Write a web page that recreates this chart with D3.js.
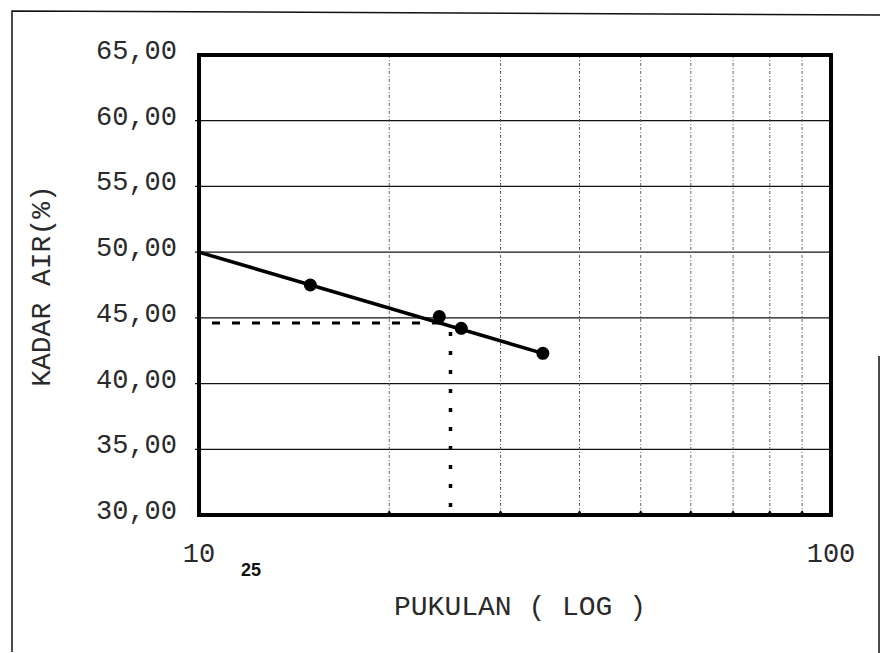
<!DOCTYPE html>
<html>
<head>
<meta charset="utf-8">
<script src="https://cdn.jsdelivr.net/npm/d3@7"></script>
<style>
	body { margin: 0; background: #fff; }
	svg { display: block; }
	.mono { font-family: "Courier New", "Liberation Mono", monospace; fill: #2a2a2a; }
</style>
</head>
<body>
<svg id="chart" width="880" height="653"></svg>
<script>
// data
const blows = [15, 24, 26, 35];
const moisture = [47.5, 45.1, 44.2, 42.3];

// fitted line (end points as drawn)
const trendBlows = [10, 35];
const trendMoisture = [50.0, 42.3];

// reading at 25 blows
const refBlows = 25;
const refMoisture = 44.6;

const yTicks = [30, 35, 40, 45, 50, 55, 60, 65];
const xGrid = [20, 30, 40, 50, 60, 70, 80, 90];
const xLabels = [10, 100];

const margin = {top: 55, right: 49, bottom: 138, left: 199};
const W = 880, H = 653;

const svg = d3.select('#chart');

// outer frame of the scan
svg.append('path')
	.attr('d', 'M12,652 L12,11 L880,15 M879,356 L879,653')
	.attr('fill', 'none')
	.attr('stroke', '#111')
	.attr('stroke-width', 1.5);

const xScale = d3.scaleLog()
	.domain([10, 100])
	.range([margin.left, W - margin.right]);

const yScale = d3.scaleLinear()
	.domain([30, 65])
	.range([H - margin.bottom, margin.top]);

// horizontal grid
svg.append('g').selectAll('line')
	.data(yTicks.slice(1, -1))
	.enter().append('line')
		.attr('x1', xScale(10) - 4)
		.attr('x2', xScale(100))
		.attr('y1', d => yScale(d))
		.attr('y2', d => yScale(d))
		.attr('stroke', '#111')
		.attr('stroke-width', 1.2);

// vertical grid (dotted)
svg.append('g').selectAll('line')
	.data(xGrid)
	.enter().append('line')
		.attr('x1', d => xScale(d))
		.attr('x2', d => xScale(d))
		.attr('y1', yScale(65))
		.attr('y2', yScale(30))
		.attr('stroke', '#555')
		.attr('stroke-width', 0.9)
		.attr('stroke-dasharray', '3,2,1,2');

// small ticks on the bottom axis
svg.append('g').selectAll('path')
	.data(xGrid)
	.enter().append('path')
		.attr('d', d => 'M' + (xScale(d) - 3) + ',' + yScale(30) + ' L' + xScale(d) + ',' + (yScale(30) - 5) + ' L' + (xScale(d) + 3) + ',' + yScale(30) + 'Z')
		.attr('fill', '#111');

// plot border
svg.append('rect')
	.attr('x', xScale(10))
	.attr('y', yScale(65))
	.attr('width', xScale(100) - xScale(10))
	.attr('height', yScale(30) - yScale(65))
	.attr('fill', 'none')
	.attr('stroke', '#000')
	.attr('stroke-width', 4);

// y labels
svg.append('g').selectAll('text')
	.data(yTicks)
	.enter().append('text')
		.attr('class', 'mono')
		.attr('x', xScale(10) - 22)
		.attr('y', d => yScale(d) + 4)
		.attr('text-anchor', 'end')
		.attr('font-size', 27)
		.text(d => d3.format('.2f')(d).replace('.', ','));

// x labels
svg.append('g').selectAll('text')
	.data(xLabels)
	.enter().append('text')
		.attr('class', 'mono')
		.attr('x', d => xScale(d))
		.attr('y', yScale(30) + 47)
		.attr('text-anchor', 'middle')
		.attr('font-size', 27)
		.text(d => d);

svg.append('text')
	.attr('x', 251)
	.attr('y', yScale(30) + 61)
	.attr('text-anchor', 'middle')
	.attr('font-family', 'Arial, "Liberation Sans", sans-serif')
	.attr('font-weight', 'bold')
	.attr('font-size', 18)
	.attr('fill', '#111')
	.text(refBlows);

// axis titles
svg.append('text')
	.attr('class', 'mono')
	.attr('x', 520)
	.attr('y', 615)
	.attr('text-anchor', 'middle')
	.attr('font-size', 28)
	.text('PUKULAN ( LOG )');

svg.append('text')
	.attr('class', 'mono')
	.attr('transform', 'translate(50,286) rotate(-90)')
	.attr('text-anchor', 'middle')
	.attr('font-size', 28)
	.text('KADAR AIR(%)');

// reading lines at 25 blows
svg.append('line')
	.attr('x1', xScale(10) + 13)
	.attr('x2', xScale(refBlows))
	.attr('y1', yScale(refMoisture))
	.attr('y2', yScale(refMoisture))
	.attr('stroke', '#000')
	.attr('stroke-width', 3)
	.attr('stroke-dasharray', '8,12');

svg.append('line')
	.attr('x1', xScale(refBlows))
	.attr('x2', xScale(refBlows))
	.attr('y1', yScale(refMoisture) + 9)
	.attr('y2', yScale(30) - 4)
	.attr('stroke', '#000')
	.attr('stroke-width', 3.5)
	.attr('stroke-dasharray', '4,15');

// fitted line
const line = d3.line()
	.x(d => xScale(d[0]))
	.y(d => yScale(d[1]));

svg.append('path')
	.attr('d', line(trendBlows.map((b, i) => [b, trendMoisture[i]])))
	.attr('fill', 'none')
	.attr('stroke', '#000')
	.attr('stroke-width', 3.5);

// points
svg.append('g').selectAll('circle')
	.data(blows)
	.enter().append('circle')
		.attr('cx', d => xScale(d))
		.attr('cy', (d, i) => yScale(moisture[i]))
		.attr('r', 6.5)
		.attr('fill', '#000');
</script>
</body>
</html>
